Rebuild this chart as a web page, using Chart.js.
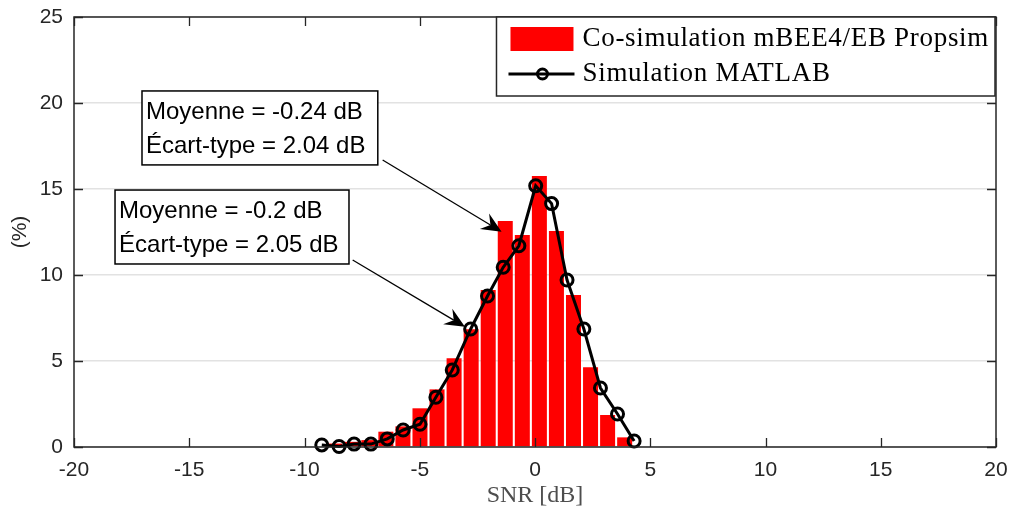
<!DOCTYPE html>
<html>
<head>
<meta charset="utf-8">
<script src="https://cdn.jsdelivr.net/npm/chart.js@4.4.1/dist/chart.umd.min.js"></script>
<style>
  html, body { margin: 0; padding: 0; background: #fff; }
</style>
</head>
<body>
<canvas id="snrChart" width="1011" height="514"></canvas>
<script>
// Co-simulation histogram: bin centres (dB) and share of samples (%)
const binCenters = [-8.69, -7.95, -7.21, -6.47, -5.73, -4.99, -4.25, -3.51, -2.77, -2.03, -1.29, -0.55, 0.19, 0.93, 1.67, 2.41, 3.15, 3.89];
const binPercent = [0.2, 0.3, 0.4, 0.89, 1.2, 2.25, 3.35, 5.16, 6.84, 9.13, 13.14, 12.33, 15.76, 12.56, 8.84, 4.63, 1.86, 0.56];

// MATLAB simulation curve
const simSnr = [-9.25, -8.5, -7.85, -7.12, -6.41, -5.72, -4.99, -4.3, -3.59, -2.79, -2.06, -1.38, -0.7, 0.03, 0.72, 1.39, 2.12, 2.84, 3.58, 4.3];
const simPercent = [0.12, 0.03, 0.17, 0.17, 0.47, 0.99, 1.32, 2.89, 4.48, 6.86, 8.78, 10.45, 11.7, 15.19, 14.15, 9.71, 6.86, 3.43, 1.92, 0.35];

const xTicks = [-20, -15, -10, -5, 0, 5, 10, 15, 20];
const yTicks = [0, 5, 10, 15, 20, 25];

const barLabel = "Co-simulation mBEE4/EB Propsim";
const lineLabel = "Simulation MATLAB";

// text boxes with arrows, given in data units
const notes = [
    { lines: ["Moyenne = -0.24 dB", "Écart-type = 2.04 dB"], box: [-17.05, 20.7, -6.82, 16.4], from: [-6.61, 16.69], to: [-1.45, 12.52] },
    { lines: ["Moyenne = -0.2 dB", "Écart-type = 2.05 dB"], box: [-18.22, 14.94, -8.07, 10.64], from: [-7.91, 10.87], to: [-3.04, 6.99] }
];

const AXIS = "#262626";
const SANS = "'Liberation Sans', Arial, sans-serif";
const SERIF = "'Liberation Serif', 'Times New Roman', serif";

// Axes box + inward ticks like MATLAB
const framePlugin = {
    id: "frame",
    afterDatasetsDraw(chart) {
        const { ctx, chartArea: a, scales: { x, y } } = chart;
        const len = 9;
        ctx.save();
        ctx.strokeStyle = AXIS;
        ctx.lineWidth = 1.3;
        ctx.beginPath();
        xTicks.forEach(v => {
            const px = Math.round(x.getPixelForValue(v)) + 0.5;
            ctx.moveTo(px, a.bottom); ctx.lineTo(px, a.bottom - len);
            ctx.moveTo(px, a.top); ctx.lineTo(px, a.top + len);
        });
        yTicks.forEach(v => {
            const py = Math.round(y.getPixelForValue(v)) + 0.5;
            ctx.moveTo(a.left, py); ctx.lineTo(a.left + len, py);
            ctx.moveTo(a.right, py); ctx.lineTo(a.right - len, py);
        });
        ctx.stroke();
        ctx.lineWidth = 1.5;
        ctx.strokeRect(a.left, a.top, a.right - a.left, a.bottom - a.top);
        ctx.restore();
    }
};

function drawArrow(ctx, x0, y0, x1, y1) {
    const ang = Math.atan2(y1 - y0, x1 - x0);
    const L = 20, W = 9, N = 13;
    ctx.beginPath();
    ctx.moveTo(x0, y0);
    ctx.lineTo(x1 - Math.cos(ang) * N, y1 - Math.sin(ang) * N);
    ctx.stroke();
    ctx.save();
    ctx.translate(x1, y1);
    ctx.rotate(ang);
    ctx.beginPath();
    ctx.moveTo(0, 0);
    ctx.lineTo(-L, -W);
    ctx.lineTo(-N, 0);
    ctx.lineTo(-L, W);
    ctx.closePath();
    ctx.fill();
    ctx.restore();
}

const notesPlugin = {
    id: "notes",
    afterDraw(chart) {
        const { ctx, scales: { x, y } } = chart;
        ctx.save();
        ctx.strokeStyle = "#000";
        ctx.fillStyle = "#000";
        ctx.lineWidth = 1.3;
        notes.forEach(n => {
            drawArrow(ctx, x.getPixelForValue(n.from[0]), y.getPixelForValue(n.from[1]),
                x.getPixelForValue(n.to[0]), y.getPixelForValue(n.to[1]));
            const l = x.getPixelForValue(n.box[0]), t = y.getPixelForValue(n.box[1]);
            const r = x.getPixelForValue(n.box[2]), b = y.getPixelForValue(n.box[3]);
            ctx.fillStyle = "#fff";
            ctx.fillRect(l, t, r - l, b - t);
            ctx.lineWidth = 1.5;
            ctx.strokeRect(l, t, r - l, b - t);
            ctx.fillStyle = "#000";
            ctx.font = "24px " + SANS;
            ctx.textBaseline = "middle";
            ctx.textAlign = "left";
            n.lines.forEach((s, i) => ctx.fillText(s, l + 4, t + 21 + i * 34));
            ctx.lineWidth = 1.3;
        });
        ctx.restore();
    }
};

// Legend box in the top right corner of the axes
const legendPlugin = {
    id: "boxLegend",
    afterDraw(chart) {
        const { ctx, chartArea: a } = chart;
        ctx.save();
        ctx.font = "27px " + SERIF;
        if ("letterSpacing" in ctx) ctx.letterSpacing = "0.7px";
        const w = Math.max(ctx.measureText(barLabel).width, ctx.measureText(lineLabel).width);
        const right = a.right - 1, top = a.top;
        const left = right - (86 + w + 6);
        const bottom = top + 79;
        ctx.fillStyle = "#fff";
        ctx.fillRect(left, top, right - left, bottom - top);
        ctx.strokeStyle = AXIS;
        ctx.lineWidth = 1.5;
        ctx.strokeRect(left, top, right - left, bottom - top);

        ctx.fillStyle = "#ff0000";
        ctx.fillRect(left + 14, top + 10, 63, 24);

        ctx.strokeStyle = "#000";
        ctx.lineWidth = 3;
        ctx.beginPath();
        ctx.moveTo(left + 12, top + 57);
        ctx.lineTo(left + 78, top + 57);
        ctx.stroke();
        ctx.beginPath();
        ctx.arc(left + 46, top + 57, 5, 0, Math.PI * 2);
        ctx.stroke();

        ctx.fillStyle = "#000";
        ctx.textBaseline = "middle";
        ctx.textAlign = "left";
        ctx.fillText(barLabel, left + 86, top + 22);
        ctx.fillText(lineLabel, left + 86, top + 57);
        ctx.restore();
    }
};

const ctx = document.getElementById("snrChart").getContext("2d");
const chart = new Chart(ctx, {
    type: "bar",
    data: {
        datasets: [
            {
                type: "line",
                label: lineLabel,
                data: simSnr.map((v, i) => ({ x: v, y: simPercent[i] })),
                borderColor: "#000",
                borderWidth: 3,
                pointRadius: 6,
                pointBorderWidth: 3,
                pointBorderColor: "#000",
                pointBackgroundColor: "rgba(0,0,0,0)",
                tension: 0,
                clip: false,
                order: 0
            },
            {
                type: "bar",
                label: barLabel,
                data: binCenters.map((v, i) => ({ x: v, y: binPercent[i] })),
                backgroundColor: "#ff0000",
                borderWidth: 0,
                barPercentage: 0.88,
                categoryPercentage: 1,
                order: 1
            }
        ]
    },
    options: {
        responsive: false,
        animation: false,
        layout: { padding: { left: 0, right: 15, top: 17, bottom: 0 } },
        plugins: {
            legend: { display: false },
            tooltip: { enabled: false }
        },
        scales: {
            x: {
                type: "linear",
                min: -20,
                max: 20,
                offset: false,
                afterBuildTicks: s => { s.ticks = xTicks.map(v => ({ value: v })); },
                afterFit: s => { s.height = 67; s.paddingLeft = 0; s.paddingRight = 0; },
                ticks: { color: AXIS, font: { family: SANS, size: 21 }, padding: 11, maxRotation: 0 },
                grid: { display: false, drawTicks: false },
                border: { display: false },
                title: {
                    display: true,
                    text: "SNR [dB]",
                    color: "#4d4d4d",
                    font: { family: SERIF, size: 24 },
                    padding: { top: 0, bottom: 4 }
                }
            },
            y: {
                min: 0,
                max: 25,
                afterBuildTicks: s => { s.ticks = yTicks.map(v => ({ value: v })); },
                afterFit: s => { s.width = 74; s.paddingTop = 0; s.paddingBottom = 0; },
                ticks: { color: AXIS, font: { family: SANS, size: 21 }, padding: 11 },
                grid: { color: "#e2e2e2", lineWidth: 1.5, drawTicks: false },
                border: { display: false },
                title: {
                    display: true,
                    text: "(%)",
                    color: AXIS,
                    font: { family: SANS, size: 21 },
                    padding: { top: 8, bottom: 0 }
                }
            }
        }
    },
    plugins: [framePlugin, notesPlugin, legendPlugin]
});
</script>
</body>
</html>
